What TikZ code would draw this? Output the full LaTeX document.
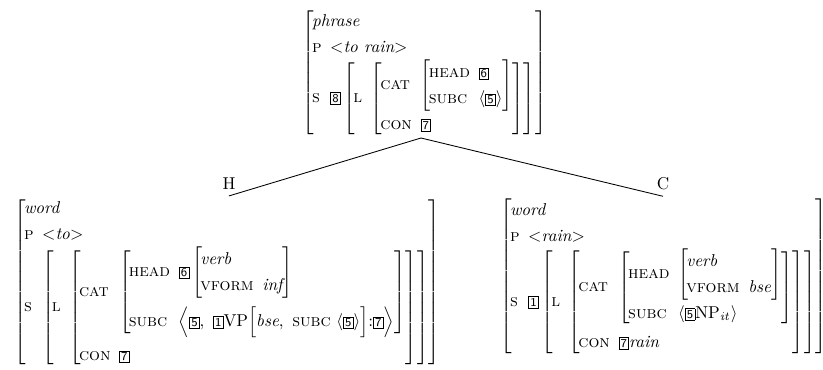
\documentclass[tikz,border=0pt]{standalone}
\usepackage{amsmath,amssymb}
\usetikzlibrary{positioning}

% feature structures
\renewcommand{\arraystretch}{1.25}
\newcommand{\avm}[1]{\left[\begin{array}{@{\hspace{-1pt}}l@{\hspace{5pt}}l@{}}#1\end{array}\right]}
\newcommand{\ft}[1]{\text{\textsc{#1}}}
\newcommand{\ty}[1]{\multicolumn{2}{@{\hspace{-1pt}}l@{}}{\textit{#1}}}
\newcommand{\tg}[1]{\text{\fboxsep=0.8pt\fbox{\sffamily\scriptsize #1}}}
\newcommand{\lt}{\mathord{<}}
\newcommand{\gt}{\mathord{>}}
\newcommand{\rowgap}[1]{\noalign{\vskip #1}}

\begin{document}
\begin{tikzpicture}[
  x=0.0205cm, y=-0.0205cm,
  avmbox/.style={inner sep=0pt, anchor=north west},
  dtr/.style={font=\normalsize},
  branch/.style={line width=0.5pt}
]
\useasboundingbox (0,0) rectangle (823,369);

% Mother
\node[avmbox] (mother) at (302,8) {$\avm{\ty{phrase}\\
  \ft{p} & \lt\textit{to rain}\gt\\
  \ft{s} & \tg{8}\avm{\ft{l} & \avm{\ft{cat} & \avm{\ft{head} & \tg{6}\\
                                                       \ft{subc} & \langle\tg{5}\rangle}\\
                                   \ft{con} & \tg{7}}}}$};

% Head daughter
\node[avmbox] (head) at (14,195) {$\avm{\ty{word}\\
  \ft{p} & \lt\textit{to}\gt\\
  \ft{s} & \avm{\ft{l} & \avm{\ft{cat} & \avm{\ft{head} & \tg{6}\avm{\ty{verb}\\ \ft{vform} & \textit{inf}}\\ \rowgap{5pt}
                                              \ft{subc} & \Bigl\langle\tg{5},\ \tg{1}\mathrm{VP}\Bigl[\textit{bse},\ \ft{subc}\ \langle\tg{5}\rangle\Bigr]{:}\tg{7}\Bigr\rangle}\\ \rowgap{3pt}
                            \ft{con} & \tg{7}}}}$};

% Complement daughter
\node[avmbox] (comp) at (500,197) {$\avm{\ty{word}\\
  \ft{p} & \lt\textit{rain}\gt\\
  \ft{s} & \tg{1}\avm{\ft{l} & \avm{\ft{cat} & \avm{\ft{head} & \avm{\ty{verb}\\ \ft{vform} & \textit{bse}}\\
                                                    \ft{subc} & \langle\tg{5}\mathrm{NP}_{\mathit{it}}\rangle}\\ \rowgap{2pt}
                                  \ft{con} & \tg{7}\textit{rain}}}}$};

% Branches
\coordinate (top) at (421,138);
\node[dtr] (hlbl) at (229,184) {H};
\node[dtr] (clbl) at (663,184) {C};
\draw[branch] (top) -- (hlbl.south);
\draw[branch] (top) -- (clbl.south);
\end{tikzpicture}
\end{document}
